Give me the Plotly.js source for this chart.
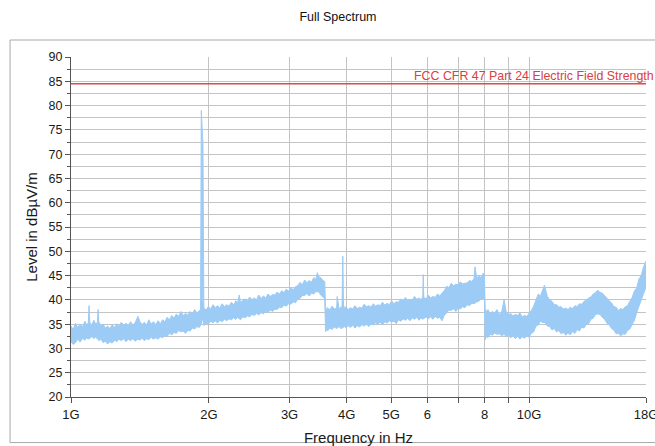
<!DOCTYPE html>
<html>
<head>
<meta charset="utf-8">
<script src="https://cdn.plot.ly/plotly-3.0.1.min.js"></script>
<style>html,body{margin:0;padding:0;background:#fff;}#chart{width:655px;height:446px;}</style>
</head>
<body>
<div id="chart"></div>
<script>
// Frequency in GHz
const freqGHz = [
1.000,1.011,1.023,1.035,1.047,1.060,1.072,1.082,1.091,1.095,
1.099,1.110,1.122,1.132,1.142,1.146,1.150,1.162,1.175,1.188,
1.202,1.216,1.230,1.245,1.259,1.273,1.288,1.303,1.318,1.334,
1.349,1.365,1.380,1.400,1.413,1.429,1.445,1.462,1.479,1.496,
1.514,1.531,1.549,1.567,1.585,1.603,1.622,1.641,1.660,1.679,
1.698,1.718,1.738,1.758,1.778,1.799,1.820,1.841,1.862,1.883,
1.905,1.918,1.925,1.933,1.941,1.950,1.972,1.995,2.018,2.042,
2.065,2.089,2.113,2.138,2.163,2.188,2.213,2.239,2.265,2.291,
2.310,2.330,2.344,2.371,2.399,2.427,2.455,2.483,2.512,2.541,
2.570,2.600,2.630,2.661,2.692,2.723,2.754,2.786,2.818,2.851,
2.884,2.917,2.951,2.985,3.020,3.055,3.090,3.126,3.162,3.199,
3.236,3.273,3.311,3.349,3.388,3.420,3.450,3.467,3.507,3.548,
3.580,3.595,3.613,3.631,3.673,3.715,3.758,3.802,3.812,3.850,
3.890,3.905,3.920,3.935,3.958,3.981,4.027,4.074,4.121,4.169,
4.217,4.266,4.315,4.365,4.416,4.467,4.519,4.571,4.624,4.677,
4.731,4.786,4.842,4.898,4.955,5.012,5.070,5.129,5.188,5.248,
5.309,5.370,5.432,5.495,5.559,5.623,5.688,5.754,5.808,5.860,
5.875,5.890,5.958,6.026,6.095,6.166,6.237,6.310,6.383,6.457,
6.530,6.607,6.683,6.761,6.839,6.918,6.998,7.079,7.161,7.244,
7.328,7.413,7.499,7.586,7.620,7.690,7.762,7.852,7.943,7.990,
8.020,8.074,8.128,8.222,8.318,8.414,8.511,8.610,8.710,8.820,
8.913,9.016,9.120,9.226,9.333,9.441,9.550,9.660,9.772,9.885,
10.000,10.116,10.233,10.351,10.471,10.592,10.715,10.800,10.965,11.092,
11.220,11.350,11.482,11.614,11.749,11.885,12.023,12.162,12.303,12.445,
12.589,12.735,12.882,13.032,13.183,13.335,13.490,13.645,13.804,13.964,
14.125,14.289,14.454,14.622,14.791,14.962,15.136,15.311,15.488,15.667,
15.849,16.032,16.218,16.406,16.596,16.788,16.982,17.179,17.378,17.579,
17.783,18.000
];
// Upper edge of the measured noise band (dBµV/m)
const levelUpper = [
34.6,33.9,35.2,34.3,35.0,34.4,35.6,34.8,35.3,38.8,
35.4,34.7,35.8,35.0,35.4,38.0,35.5,34.6,35.0,34.2,
34.6,34.1,34.9,34.3,35.1,34.5,35.4,34.7,35.2,34.6,
35.5,34.8,35.3,36.6,35.6,34.9,35.4,34.8,35.9,35.0,
35.5,34.9,35.7,35.1,35.9,35.5,36.4,35.9,36.8,36.2,
37.1,36.6,37.6,36.8,37.2,36.9,37.6,37.1,38.0,37.3,
37.8,37.6,79.0,76.0,72.0,38.3,37.9,38.6,38.1,39.0,
38.4,38.8,38.3,39.2,38.6,39.0,38.7,39.5,39.0,39.8,
39.3,41.0,39.4,39.9,40.2,39.7,40.6,40.0,40.4,40.0,
41.0,40.3,40.8,40.4,41.2,40.7,41.1,41.0,41.6,41.2,
41.9,41.5,42.2,41.8,42.5,42.1,42.7,42.9,43.6,43.1,
44.1,43.5,44.0,43.6,44.6,44.1,45.6,44.8,44.6,44.0,
43.8,38.5,37.8,38.4,37.9,38.7,38.1,38.3,40.7,38.0,
38.6,38.3,49.0,38.9,38.2,38.6,38.0,38.4,38.1,38.8,
38.2,38.5,38.3,39.1,38.6,38.8,38.5,39.2,38.7,39.0,
38.8,39.5,38.9,39.3,39.0,39.8,39.2,39.6,39.5,40.2,
39.7,40.5,39.8,40.1,40.0,40.7,40.1,40.4,40.0,40.6,
45.2,40.5,40.2,41.0,40.4,40.7,40.5,41.2,40.8,41.4,
41.9,42.8,42.5,43.4,42.9,43.2,43.1,43.7,43.3,43.4,
43.5,44.0,43.8,44.4,46.8,44.3,45.0,44.6,45.5,45.0,
38.2,37.5,38.0,37.2,37.6,37.3,38.0,37.0,37.4,40.0,
37.6,36.9,37.2,36.7,37.0,36.8,37.3,36.5,36.8,36.6,
37.1,37.8,38.7,40.2,41.2,40.8,42.1,43.0,40.7,40.0,
39.7,39.0,39.0,38.5,38.6,38.1,38.3,38.0,38.5,38.2,
38.8,38.6,39.2,39.1,39.7,39.9,40.4,40.6,41.2,41.5,
42.0,41.5,41.4,40.8,40.4,39.8,39.4,38.6,38.5,37.8,
38.2,38.0,38.6,38.8,39.7,40.5,41.8,42.5,44.3,45.0,
46.8,48.0
];
// Lower edge of the measured noise band (dBµV/m)
const levelLower = [
31.4,30.8,31.2,31.9,31.3,32.1,31.7,32.2,31.9,32.2,
32.0,32.5,32.0,32.4,31.9,32.1,31.6,31.9,31.2,31.5,
30.9,31.4,31.1,31.7,31.4,31.9,31.6,32.0,31.4,31.9,
31.6,32.0,31.5,31.9,31.7,32.1,31.6,32.0,31.8,32.3,
31.9,32.2,31.9,32.4,32.2,32.7,32.5,33.1,32.8,33.3,
33.1,33.7,33.4,33.6,33.1,33.7,33.6,34.2,34.0,34.5,
34.3,34.7,35.0,36.5,35.0,34.7,35.2,35.0,35.6,35.3,
35.7,35.2,35.8,35.5,36.0,35.7,36.1,35.9,36.3,36.0,
36.4,36.2,35.9,36.5,36.3,36.7,36.5,37.0,36.8,37.2,
36.9,37.4,37.1,37.6,37.4,37.9,37.6,38.1,38.0,38.5,
38.4,38.9,38.7,39.2,39.1,39.6,39.4,40.1,40.3,40.9,
40.9,41.3,40.8,41.4,41.2,41.7,41.6,41.8,41.0,40.6,
40.2,33.4,34.0,33.6,34.2,33.9,34.4,34.1,34.2,34.5,
34.0,34.3,34.5,34.3,34.6,34.2,34.7,34.3,34.8,34.2,
34.7,34.4,34.9,34.6,35.0,34.5,35.1,34.8,35.3,35.0,
35.4,34.9,35.5,35.2,35.7,35.4,35.6,35.1,35.9,35.6,
36.1,35.8,36.2,35.7,36.3,36.0,36.4,35.8,36.3,36.0,
36.3,36.1,36.5,36.1,36.5,36.0,36.6,36.2,36.4,35.7,
36.8,37.3,37.9,37.8,38.2,37.6,38.3,38.1,38.6,38.4,
39.0,38.8,39.3,39.2,39.4,39.6,39.7,40.2,40.3,40.0,
31.8,32.6,32.2,32.9,32.7,33.2,32.9,33.0,32.6,32.9,
32.4,32.8,32.2,32.6,32.0,32.5,31.9,32.4,32.1,32.6,
32.3,33.1,33.4,34.6,34.8,35.6,35.3,35.4,34.6,34.5,
33.8,34.1,33.4,33.7,33.0,33.3,32.7,33.2,32.8,33.5,
33.1,33.9,33.6,34.4,34.2,35.0,35.1,36.0,36.2,37.0,
37.1,37.0,36.4,36.0,35.2,34.9,34.1,33.8,33.0,33.1,
32.6,33.0,32.9,33.7,34.0,35.0,35.8,37.4,38.8,40.3,
41.3,42.6
];
const limitFreq = [1, 18];
const limitLevel = [84.5, 84.5];
const limitLabel = 'FCC CFR 47 Part 24 Electric Field Strength';
const xTickVals = [1,2,3,4,5,6,7,8,9,10,18];
const xTickText = ['1G','2G','3G','4G','5G','6','','8','','10G','18G'];

const bandColor = '#9ccbf6';
const traces = [
  {x: freqGHz, y: levelLower, type: 'scatter', mode: 'lines', line: {color: bandColor, width: 1}, hoverinfo: 'skip', showlegend: false},
  {x: freqGHz, y: levelUpper, type: 'scatter', mode: 'lines', fill: 'tonexty', fillcolor: bandColor, line: {color: bandColor, width: 1}, showlegend: false},
  {x: limitFreq, y: limitLevel, type: 'scatter', mode: 'lines', line: {color: '#e0484c', width: 1.5}, showlegend: false}
];
const fnt = 'Liberation Sans, Arial, sans-serif';
const layout = {
  width: 655, height: 446,
  margin: {l: 71, r: 9, t: 57, b: 49, pad: 0},
  paper_bgcolor: '#ffffff', plot_bgcolor: '#ffffff',
  font: {family: fnt, size: 12, color: '#1a1a1a'},
  title: {text: 'Full Spectrum', font: {family: fnt, size: 12.5, color: '#111'}, x: 0.516, xref: 'container', xanchor: 'center', y: 0.962, yref: 'container', yanchor: 'middle'},
  xaxis: {
    type: 'log', range: [0, Math.log10(18) + 1e-6], tickmode: 'array', tickvals: xTickVals, ticktext: xTickText,
    ticks: 'outside', ticklen: 5, tickcolor: '#555', showline: true, linecolor: '#555', linewidth: 1,
    showgrid: true, gridcolor: '#c4c4c4', gridwidth: 1, zeroline: false, ticklabeloverflow: 'allow',
    tickfont: {family: fnt, size: 13, color: '#1a1a1a'},
    title: {text: 'Frequency in Hz', font: {family: fnt, size: 15, color: '#1a1a1a'}, standoff: 12},
    automargin: false
  },
  yaxis: {
    range: [20, 90], tick0: 20, dtick: 5, ticks: 'outside', ticklen: 5, tickcolor: '#555',
    showline: true, linecolor: '#555', linewidth: 1,
    showgrid: true, gridcolor: '#c4c4c4', gridwidth: 1, zeroline: false,
    minor: {dtick: 2.5, ticks: 'outside', ticklen: 3, tickcolor: '#555', showgrid: true, gridcolor: '#c4c4c4', gridwidth: 1},
    tickfont: {family: fnt, size: 12.5, color: '#1a1a1a'},
    title: {text: 'Level in dBµV/m', font: {family: fnt, size: 15, color: '#1a1a1a'}, standoff: 7},
    automargin: false
  },
  shapes: [
    {type: 'rect', xref: 'paper', yref: 'paper', x0: -0.106, x1: 1.06, y0: -0.134, y1: 1.05, line: {color: '#a8a8a8', width: 1}, layer: 'below'}
  ],
  annotations: [
    {text: limitLabel, x: Math.log10(18), xref: 'x', y: limitLevel[0], yref: 'y', xanchor: 'right', yanchor: 'bottom', xshift: 10, yshift: -1, showarrow: false, font: {family: fnt, size: 12.4, color: '#d9403f'}}
  ]
};
if (freqGHz.length !== levelUpper.length || freqGHz.length !== levelLower.length) {
  console.error('length mismatch', freqGHz.length, levelUpper.length, levelLower.length);
}
Plotly.newPlot('chart', traces, layout, {displayModeBar: false, staticPlot: true});
</script>
</body>
</html>
